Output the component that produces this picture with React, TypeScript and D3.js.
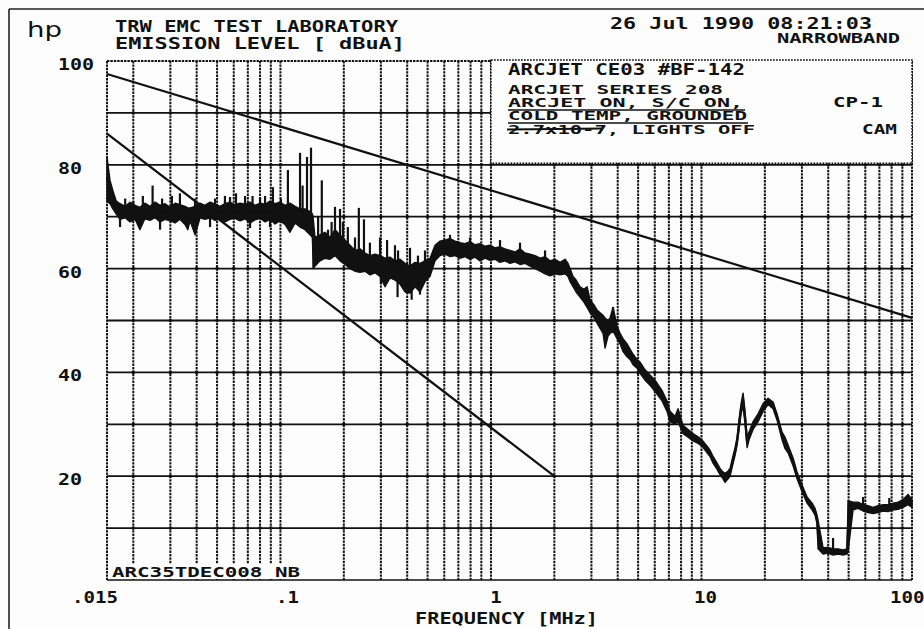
import React from "react";
import * as d3 from "d3";

// ---- axis / label data ----
const FREQ_TICKS = [0.015, 0.1, 1, 10, 100];
const FREQ_LABELS = [".015", ".1", "1", "10", "100"];
const FREQ_LABEL_SHIFT = [-12, 7, 5, 4, 0];
const LEVEL_TICKS = [100, 80, 60, 40, 20];
const LEVEL_LABELS = ["100", "80", "60", "40", "20"];
const GRID_LEVELS = [10, 20, 30, 40, 50, 60, 70, 80, 90];

// ---- limit lines [MHz, dBuA] ----
const UPPER_LIMIT: [number, number][] = [[0.015, 97.5], [100, 50.5]];
const LOWER_LIMIT: [number, number][] = [[0.015, 86], [2, 20]];

// ---- measured trace envelope (frequency MHz, min dBuA, max dBuA) ----
const TRACE_FREQ = [
  0.015, 0.0155, 0.016, 0.0166, 0.0173, 0.0183, 0.0193, 0.0204, 0.0215, 0.0227,
  0.024, 0.0254, 0.0268, 0.0283, 0.0299, 0.0316, 0.0333, 0.0352, 0.0363, 0.0372,
  0.0393, 0.0415, 0.0438, 0.0463, 0.0489, 0.0516, 0.0545, 0.0576, 0.0608, 0.0643,
  0.0679, 0.0717, 0.0757, 0.08, 0.0845, 0.0892, 0.0942, 0.0995, 0.1051, 0.111,
  0.1173, 0.1239, 0.1308, 0.1382, 0.142, 0.1428, 0.146, 0.1542, 0.1628, 0.172,
  0.1816, 0.1919, 0.2026, 0.214, 0.226, 0.2388, 0.2522, 0.2664, 0.2813, 0.2972,
  0.3139, 0.3315, 0.3502, 0.3698, 0.3906, 0.4125, 0.4358, 0.4603, 0.4862, 0.5135,
  0.5424, 0.5728, 0.605, 0.6391, 0.675, 0.7129, 0.7529, 0.7953, 0.84, 0.8872,
  0.9371, 0.9899, 1.045, 1.104, 1.166, 1.232, 1.301, 1.374, 1.451, 1.533,
  1.62, 1.711, 1.807, 1.908, 2.016, 2.129, 2.249, 2.323, 2.375, 2.454,
  2.536, 2.65, 2.768, 2.861, 2.956, 3.088, 3.191, 3.298, 3.408, 3.483,
  3.599, 3.678, 3.801, 3.971, 4.104, 4.241, 4.431, 4.578, 4.731, 4.942,
  5.108, 5.395, 5.698, 6.018, 6.497, 6.862, 7.091, 7.489, 7.74, 8.175,
  8.636, 9.12, 9.632, 10.06, 10.63, 10.98, 11.35, 11.86, 12.25, 12.52,
  12.94, 13.37, 13.67, 14.13, 14.44, 14.76, 15.09, 15.42, 15.76, 16.11,
  16.47, 16.83, 17.58, 18.57, 19.62, 20.72, 21.88, 22.86, 24.14, 24.95,
  25.78, 27.23, 28.44, 30.05, 31.73, 33.52, 34.63, 35.4, 35.79, 37.81,
  39.94, 42.17, 44.56, 47.05, 49.15, 49.7, 52.48, 55.44, 58.55, 61.84,
  65.34, 69.02, 72.89, 76.97, 81.33, 85.88, 90.7, 95.79, 100,
];
const TRACE_MIN = [
  73.0, 72.5, 71.5, 70.5, 69.5, 69.8, 69.0, 69.5, 67.5, 69.6,
  69.3, 69.8, 69.0, 69.5, 69.2, 68.8, 69.5, 68.5, 67.5, 69.2,
  66.5, 69.8, 69.5, 69.8, 69.3, 69.6, 69.0, 69.5, 69.7, 69.2,
  69.6, 68.8, 69.4, 69.7, 69.0, 69.5, 68.6, 69.2, 68.5, 67.0,
  68.8, 68.0, 67.5, 66.5, 66.0, 60.0, 60.5, 61.5, 62.0, 61.8,
  62.5, 61.5, 60.8, 60.0, 59.5, 59.3, 59.5, 58.8, 59.2, 58.5,
  56.5, 58.2, 57.8, 57.0, 55.5, 55.3, 56.5, 55.5, 57.5, 58.5,
  61.5, 62.5, 62.8, 62.3, 62.5, 62.0, 62.3, 61.8, 62.2, 61.5,
  62.0, 61.6, 61.8, 61.2, 61.5, 61.0, 61.3, 60.8, 61.0, 60.5,
  60.0, 59.5, 59.0, 58.6, 59.0, 58.8, 59.0, 58.5, 57.5, 56.5,
  55.5, 54.5, 53.5, 52.5, 51.5, 50.5, 49.5, 48.5, 47.5, 44.7,
  47.0, 47.5, 48.0, 46.5, 45.5, 44.0, 43.0, 42.5, 41.5, 40.8,
  39.8, 38.5, 37.5, 36.3, 34.5, 32.5, 30.5, 30.0, 30.5, 28.2,
  27.5, 26.8, 26.3, 25.8, 24.5, 23.8, 22.5, 21.3, 20.3, 19.8,
  18.8, 19.5, 20.0, 22.5, 24.0, 26.0, 29.0, 32.0, 33.5, 30.0,
  25.5, 27.0, 29.0, 30.5, 32.5, 33.8, 33.0, 30.8, 27.0, 25.3,
  24.5, 22.0, 19.5, 17.0, 14.8, 13.5, 12.5, 10.8, 6.0, 5.0,
  5.2, 4.8, 5.0, 4.8, 5.0, 5.5, 13.5, 13.8, 13.3, 13.0,
  12.8, 13.0, 13.3, 13.2, 13.5, 13.6, 14.0, 14.5, 14.0,
];
const TRACE_MAX = [
  81.5, 77.0, 75.0, 73.0, 72.5, 72.0, 72.8, 72.2, 71.8, 72.6,
  72.0, 72.8, 72.2, 72.5, 71.8, 72.6, 72.3, 72.0, 71.7, 71.7,
  72.0, 72.6, 72.2, 72.8, 72.4, 72.0, 72.5, 72.8, 72.3, 72.6,
  72.4, 72.8, 72.2, 72.6, 72.4, 73.0, 72.5, 72.8, 72.2, 72.6,
  72.0, 71.5, 71.5, 71.0, 70.5, 70.0, 66.0, 66.5, 67.0, 66.0,
  67.5, 66.5, 65.5, 64.5, 63.5, 63.8, 63.0, 62.5, 62.8, 62.5,
  62.0, 62.2, 61.5, 61.8, 61.0, 60.5, 61.2, 61.0, 61.5, 62.0,
  64.5, 65.3, 65.5, 65.8, 65.3, 65.0, 64.8, 65.2, 64.6, 64.8,
  64.3, 64.5, 64.0, 64.2, 63.8, 63.5, 63.2, 63.8, 63.0, 62.8,
  62.5, 62.0, 62.3, 61.5, 61.8, 61.2, 61.8, 61.0, 60.0, 58.5,
  57.8, 56.5, 56.0, 56.5, 54.0, 53.0, 52.0, 51.5, 51.0, 50.5,
  50.0, 50.5, 52.5, 49.0, 47.5, 46.5, 45.5, 44.5, 43.5, 42.5,
  42.0, 40.5, 39.5, 38.5, 36.5, 34.5, 32.5, 31.5, 33.0, 29.8,
  29.0, 28.2, 27.6, 27.0, 25.8, 25.0, 23.8, 22.5, 21.5, 21.0,
  20.5, 21.0, 21.5, 24.0, 25.5, 27.5, 31.0, 34.0, 36.0, 32.5,
  27.5, 28.5, 30.5, 32.0, 34.0, 35.0, 34.3, 32.0, 28.5, 27.5,
  26.0, 23.5, 20.8, 18.3, 16.0, 14.8, 13.8, 12.5, 11.5, 6.2,
  6.3, 6.0, 6.0, 5.8, 6.0, 15.3, 15.0, 15.0, 14.5, 14.3,
  14.0, 14.3, 14.5, 14.5, 14.8, 15.0, 15.5, 16.5, 15.5,
];

// ---- narrow spurious spikes / dips (frequency MHz, start dBuA, end dBuA) ----
const SPIKE_FREQ = [
  0.0183, 0.02, 0.0222, 0.0247, 0.0274, 0.0305, 0.0333, 0.0393, 0.0489, 0.0545,
  0.0576, 0.0615, 0.0679, 0.0737, 0.08, 0.0845, 0.0921, 0.1005, 0.1085, 0.1239,
  0.1274, 0.1337, 0.1397, 0.151, 0.1572, 0.1683, 0.175, 0.1816, 0.1919, 0.1981,
  0.209, 0.226, 0.2357, 0.2493, 0.266, 0.2972, 0.321, 0.35, 0.362, 0.4125,
  0.45, 0.486, 0.639, 0.795, 1.104, 1.374, 1.807, 3.801, 42.17, 58.55,
  78.0, 0.0173, 0.0268, 0.0463, 0.0717, 0.0892, 0.36, 0.42, 0.46, 0.3,
];
const SPIKE_FROM = [
  71, 71, 71, 71, 71, 71, 71, 71, 71, 71,
  71, 71, 71, 71, 71, 71, 71, 71, 71, 71,
  71, 71, 70, 64, 64, 64, 64, 64, 63, 63,
  62, 61, 61, 61, 61, 60, 60, 59.5, 59, 58.5,
  58, 59, 64, 63.5, 63, 62.5, 61, 49, 5.5, 14,
  14, 71, 71, 71, 71, 71, 58, 57.5, 57.5, 60,
];
const SPIKE_TO = [
  73.5, 73.0, 74.0, 76.0, 73.5, 74.0, 74.5, 73.5, 73.5, 74.0,
  73.8, 74.5, 74.0, 74.0, 73.8, 74.0, 75.7, 73.5, 79.0, 82.3,
  76.0, 81.5, 83.3, 70.0, 77.0, 67.5, 69.0, 71.9, 71.5, 69.0,
  68.0, 66.0, 71.7, 69.5, 65.0, 66.0, 65.5, 64.5, 63.5, 64.0,
  62.5, 63.5, 66.5, 66.0, 65.5, 65.0, 63.5, 52.6, 8.1, 16.0,
  15.8, 68.0, 67.5, 68.0, 67.8, 68.0, 54.5, 54.0, 55.0, 57.0,
];

// ---- annotation text ----
const HEADER_LEFT = ["TRW EMC TEST LABORATORY", "EMISSION LEVEL [  dBuA]"];
const HEADER_DATE = "26 Jul 1990  08:21:03";
const HEADER_MODE = "NARROWBAND";
const NOTE_LINES = [
  "ARCJET CE03 #BF-142",
  "ARCJET SERIES 208",
  "ARCJET ON, S/C ON,",
  "COLD TEMP, GROUNDED",
  "2.7x10-7, LIGHTS OFF",
];
const FILE_LABEL = "ARC35TDEC008 NB";
const X_TITLE = "FREQUENCY [MHz]";

const W = 924;
const H = 629;
const FONT = "'DejaVu Sans Mono', monospace";
const INK = "#111";
const PAPER = "#fdfdfd";

export default function App() {
  const x = d3.scaleLog().domain([0.015, 100]).range([107, 912]);
  const y = d3.scaleLinear().domain([0, 100]).range([580, 61]);

  const vGrid = x.ticks().filter((f) => f > 0.0151 && f < 99.9);

  const band = TRACE_FREQ.map((f, i) => ({ f, lo: TRACE_MIN[i], hi: TRACE_MAX[i] }));
  const area = d3
    .area<{ f: number; lo: number; hi: number }>()
    .x((d) => x(d.f))
    .y0((d) => y(d.lo))
    .y1((d) => y(d.hi));
  const mid = d3
    .line<{ f: number; lo: number; hi: number }>()
    .x((d) => x(d.f))
    .y((d) => y((d.lo + d.hi) / 2));
  const limLine = d3
    .line<[number, number]>()
    .x((d) => x(d[0]))
    .y((d) => y(d[1]));

  const boxX0 = x(1);
  const boxX1 = x(100);
  const boxY0 = y(100) - 1;
  const boxY1 = y(80.3);

  const txt = (s: string, px: number, py: number, len: number, size = 15.5) => (
    <text
      x={px}
      y={py}
      textLength={len}
      lengthAdjust="spacingAndGlyphs"
      fontFamily={FONT}
      fontWeight="bold"
      fontSize={size}
      fill={INK}
    >
      {s}
    </text>
  );

  const dotted = { stroke: INK, strokeWidth: 2, strokeDasharray: "2.4 1" };

  return (
    <svg
      width={W}
      height={H}
      viewBox={`0 0 ${W} ${H}`}
      style={{ position: "absolute", left: 0, top: 0, background: PAPER }}
    >
      <rect x={0} y={0} width={W} height={H} fill={PAPER} />
      {/* page frame */}
      <line x1={9} y1={9} x2={W} y2={9} stroke="#222" strokeWidth={1.6} />
      <line x1={9} y1={9} x2={9} y2={H} stroke="#222" strokeWidth={1.6} />

      {/* vertical dotted grid */}
      {vGrid.map((f, i) => (
        <line key={"v" + i} x1={x(f)} x2={x(f)} y1={y(100)} y2={y(0)} {...dotted} />
      ))}
      {/* plot borders */}
      <line x1={x(0.015)} x2={x(0.015)} y1={y(100)} y2={y(0)} {...dotted} />
      <line x1={x(100)} x2={x(100)} y1={y(100)} y2={y(0)} {...dotted} />
      <line x1={x(0.015)} x2={x(100)} y1={y(100)} y2={y(100)} {...dotted} />
      <line x1={x(0.015)} x2={x(100)} y1={y(0)} y2={y(0)} stroke={INK} strokeWidth={1.7} />

      {/* horizontal solid grid */}
      {GRID_LEVELS.map((v) => (
        <line key={"h" + v} x1={x(0.015)} x2={x(100)} y1={y(v)} y2={y(v)} stroke={INK} strokeWidth={1.8} />
      ))}
      {GRID_LEVELS.map((v) =>
        vGrid.map((f, i) => <circle key={"d" + v + "_" + i} cx={x(f)} cy={y(v)} r={1.8} fill={INK} />)
      )}

      {/* limit lines */}
      <path d={limLine(UPPER_LIMIT) || ""} fill="none" stroke={INK} strokeWidth={2.2} />
      <path d={limLine(LOWER_LIMIT) || ""} fill="none" stroke={INK} strokeWidth={2.2} />

      {/* measured trace */}
      <path d={area(band) || ""} fill={INK} stroke={INK} strokeWidth={1.4} strokeLinejoin="round" />
      <path d={mid(band) || ""} fill="none" stroke={INK} strokeWidth={2.2} />
      {SPIKE_FREQ.map((f, i) => (
        <line
          key={"s" + i}
          x1={x(f)}
          x2={x(f)}
          y1={y(SPIKE_FROM[i])}
          y2={y(SPIKE_TO[i])}
          stroke={INK}
          strokeWidth={2.2}
        />
      ))}

      {/* annotation box */}
      <rect
        x={boxX0}
        y={boxY0}
        width={boxX1 - boxX0}
        height={boxY1 - boxY0}
        fill={PAPER}
        stroke={INK}
        strokeWidth={1.5}
        strokeDasharray="1.8 1.2"
      />
      {txt(NOTE_LINES[0], 508, 75, 237)}
      {txt(NOTE_LINES[1], 508, 94, 215, 11.5)}
      {txt(NOTE_LINES[2], 508, 107, 235, 11.5)}
      {txt(NOTE_LINES[3], 508, 120, 239, 11.5)}
      {txt(NOTE_LINES[4], 508, 133.5, 247, 11.5)}
      <line x1={508} x2={745} y1={110} y2={110} stroke={INK} strokeWidth={1.3} />
      <line x1={508} x2={748} y1={123} y2={123} stroke={INK} strokeWidth={1.3} />
      <line x1={507} x2={603} y1={129.5} y2={128.5} stroke={INK} strokeWidth={1.8} />
      {txt("CP-1", 833, 107, 50, 13.5)}
      {txt("CAM", 862, 134, 35, 13.5)}

      {/* file label at bottom-left */}
      <rect x={108} y={564} width={194} height={15} fill={PAPER} />
      {txt(FILE_LABEL, 112, 577, 188, 14)}

      {/* header */}
      <text x={27} y={37} fontFamily="'DejaVu Sans', sans-serif" fontSize={21} fill={INK} textLength={35} lengthAdjust="spacingAndGlyphs">
        hp
      </text>
      {txt(HEADER_LEFT[0], 115, 32, 283, 15)}
      {txt(HEADER_LEFT[1], 115, 49, 290, 15)}
      {txt(HEADER_DATE, 610, 29, 262, 15)}
      {txt(HEADER_MODE, 777, 43, 123, 14)}

      {/* y labels */}
      {LEVEL_TICKS.map((v, i) => (
        <React.Fragment key={"yl" + v}>
          {txt(LEVEL_LABELS[i], 58, y(v) + 9, LEVEL_LABELS[i].length * 12)}
        </React.Fragment>
      ))}

      {/* x labels */}
      {FREQ_TICKS.map((f, i) => (
        <text
          key={"xl" + i}
          x={i === FREQ_TICKS.length - 1 ? 890 : x(f) + FREQ_LABEL_SHIFT[i]}
          y={603}
          textAnchor={i === FREQ_TICKS.length - 1 ? "start" : "middle"}
          fontFamily={FONT}
          fontWeight="bold"
          fontSize={15.5}
          fill={INK}
          textLength={FREQ_LABELS[i].length * 11.5}
          lengthAdjust="spacingAndGlyphs"
        >
          {FREQ_LABELS[i]}
        </text>
      ))}
      {txt(X_TITLE, 415, 624, 183, 15)}
    </svg>
  );
}
